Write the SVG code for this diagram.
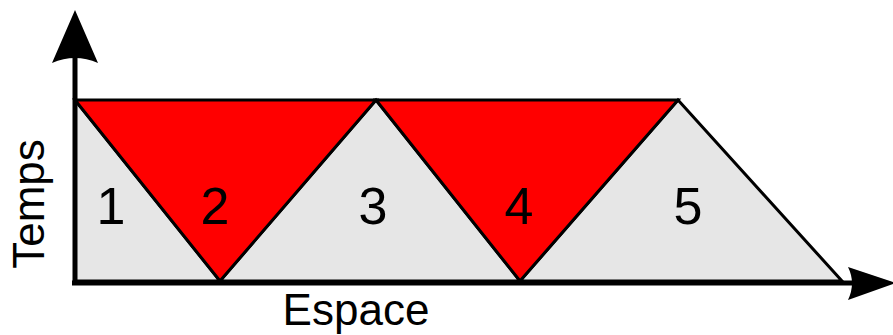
<svg xmlns="http://www.w3.org/2000/svg" width="893" height="335" viewBox="0 0 893 335">
<style>
.grey{fill:#e6e6e6;stroke:#000;stroke-width:3;stroke-linejoin:miter}
.red{fill:#ff0000;stroke:#000;stroke-width:3;stroke-linejoin:miter}
.axis{stroke:#000;stroke-width:5;fill:none}
.head{fill:#000;stroke:none}
.num{font-family:"Liberation Sans",Arial,sans-serif;font-size:52px;fill:#000;text-anchor:middle}
.lbl{font-family:"Liberation Sans",Arial,sans-serif;font-size:44px;fill:#000;text-anchor:middle}
</style>
<g id="zone1"><polygon class="grey" points="75,100 220,281 75,281"/><text class="num" x="111" y="224">1</text></g>
<g id="zone3"><polygon class="grey" points="220,281 376,100 520,281"/><text class="num" x="373" y="224">3</text></g>
<g id="zone5"><polygon class="grey" points="520,281 678,100 842,281"/><text class="num" x="688" y="224">5</text></g>
<g id="zone2"><polygon class="red" points="75,100 376,100 220,281"/><text class="num" x="215" y="224">2</text></g>
<g id="zone4"><polygon class="red" points="376,100 678,100 520,281"/><text class="num" x="519" y="224">4</text></g>
<g id="axes">
<line class="axis" x1="75" y1="285" x2="75" y2="58"/>
<path class="head" d="M75,10 L98,63 Q75,53 52,63 Z"/>
<line class="axis" x1="72" y1="283" x2="852" y2="283"/>
<path class="head" d="M896,283 L848,267 Q856,283 848,300 Z"/>
</g>
<g id="labels">
<text class="lbl" transform="translate(44,204) rotate(-90)" x="0" y="0">Temps</text>
<text class="lbl" x="356" y="325">Espace</text>
</g>
</svg>
